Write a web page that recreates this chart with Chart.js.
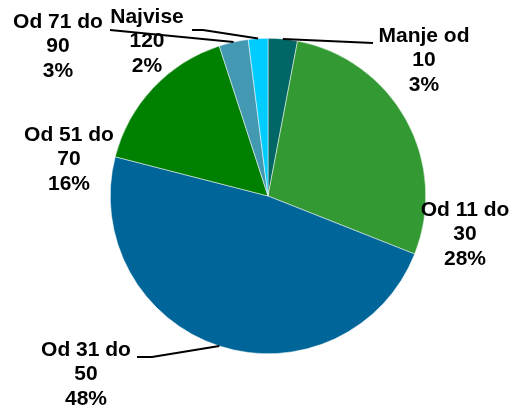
<!DOCTYPE html>
<html>
<head>
<meta charset="utf-8">
<script src="https://cdn.jsdelivr.net/npm/chart.js@4"></script>
<style>
  html, body { margin: 0; padding: 0; background: #ffffff; }
  #wrap { width: 513px; height: 409px; }
</style>
</head>
<body>
<div id="wrap"><canvas id="pieChart" width="513" height="409"></canvas></div>
<script>
// Data (percent of total)
const categories = ['Manje od 10', 'Od 11 do 30', 'Od 31 do 50', 'Od 51 do 70', 'Od 71 do 90', 'Najvise 120'];
const labelLines = [['Manje od', '10'], ['Od 11 do', '30'], ['Od 31 do', '50'], ['Od 51 do', '70'], ['Od 71 do', '90'], ['Najvise', '120']];
const shares = [3, 28, 48, 16, 3, 2];

const sliceColors = ['#006666', '#339933', '#006699', '#008000', '#4499b2', '#00ccff'];

// label placement: text block centre (x, first line y) and optional leader elbow
const labelPlaces = [
    { x: 424, y: 36, line: [[373, 43]] },
    { x: 465, y: 210 },
    { x: 86, y: 350, line: [[152, 357], [137, 357]] },
    { x: 69, y: 135 },
    { x: 58, y: 22, line: [[110, 30]] },
    { x: 147, y: 17, line: [[203, 30], [192, 30]] }
];

// draws the data labels and their leader lines
const outsideLabels = {
    id: 'outsideLabels',
    afterDatasetsDraw(chart) {
        const ctx = chart.ctx;
        const meta = chart.getDatasetMeta(0);
        ctx.save();
        ctx.font = 'bold 21px "Liberation Sans", Arial, sans-serif';
        ctx.fillStyle = '#000000';
        ctx.textAlign = 'center';
        ctx.textBaseline = 'middle';
        meta.data.forEach((arc, i) => {
            const place = labelPlaces[i];
            const p = arc.getProps(['x', 'y', 'startAngle', 'endAngle', 'outerRadius'], true);
            if (place.line) {
                const mid = (p.startAngle + p.endAngle) / 2;
                const sx = p.x + Math.cos(mid) * p.outerRadius;
                const sy = p.y + Math.sin(mid) * p.outerRadius;
                ctx.beginPath();
                ctx.strokeStyle = '#000000';
                ctx.lineWidth = 2;
                ctx.moveTo(sx, sy);
                place.line.forEach(pt => ctx.lineTo(pt[0], pt[1]));
                ctx.stroke();
            }
            const lines = labelLines[i].concat([shares[i] + '%']);
            lines.forEach((txt, k) => {
                ctx.fillText(txt, place.x, place.y + k * 24.5);
            });
        });
        ctx.restore();
    }
};

new Chart(document.getElementById('pieChart'), {
    type: 'pie',
    data: {
        labels: categories,
        datasets: [{
            data: shares,
            backgroundColor: sliceColors,
            borderWidth: 0.5,
            borderColor: '#ffffff'
        }]
    },
    options: {
        responsive: false,
        animation: false,
        layout: { padding: { top: 38, bottom: 55, left: 110, right: 87 } },
        plugins: {
            legend: { display: false },
            tooltip: { enabled: false }
        }
    },
    plugins: [outsideLabels]
});
</script>
</body>
</html>
